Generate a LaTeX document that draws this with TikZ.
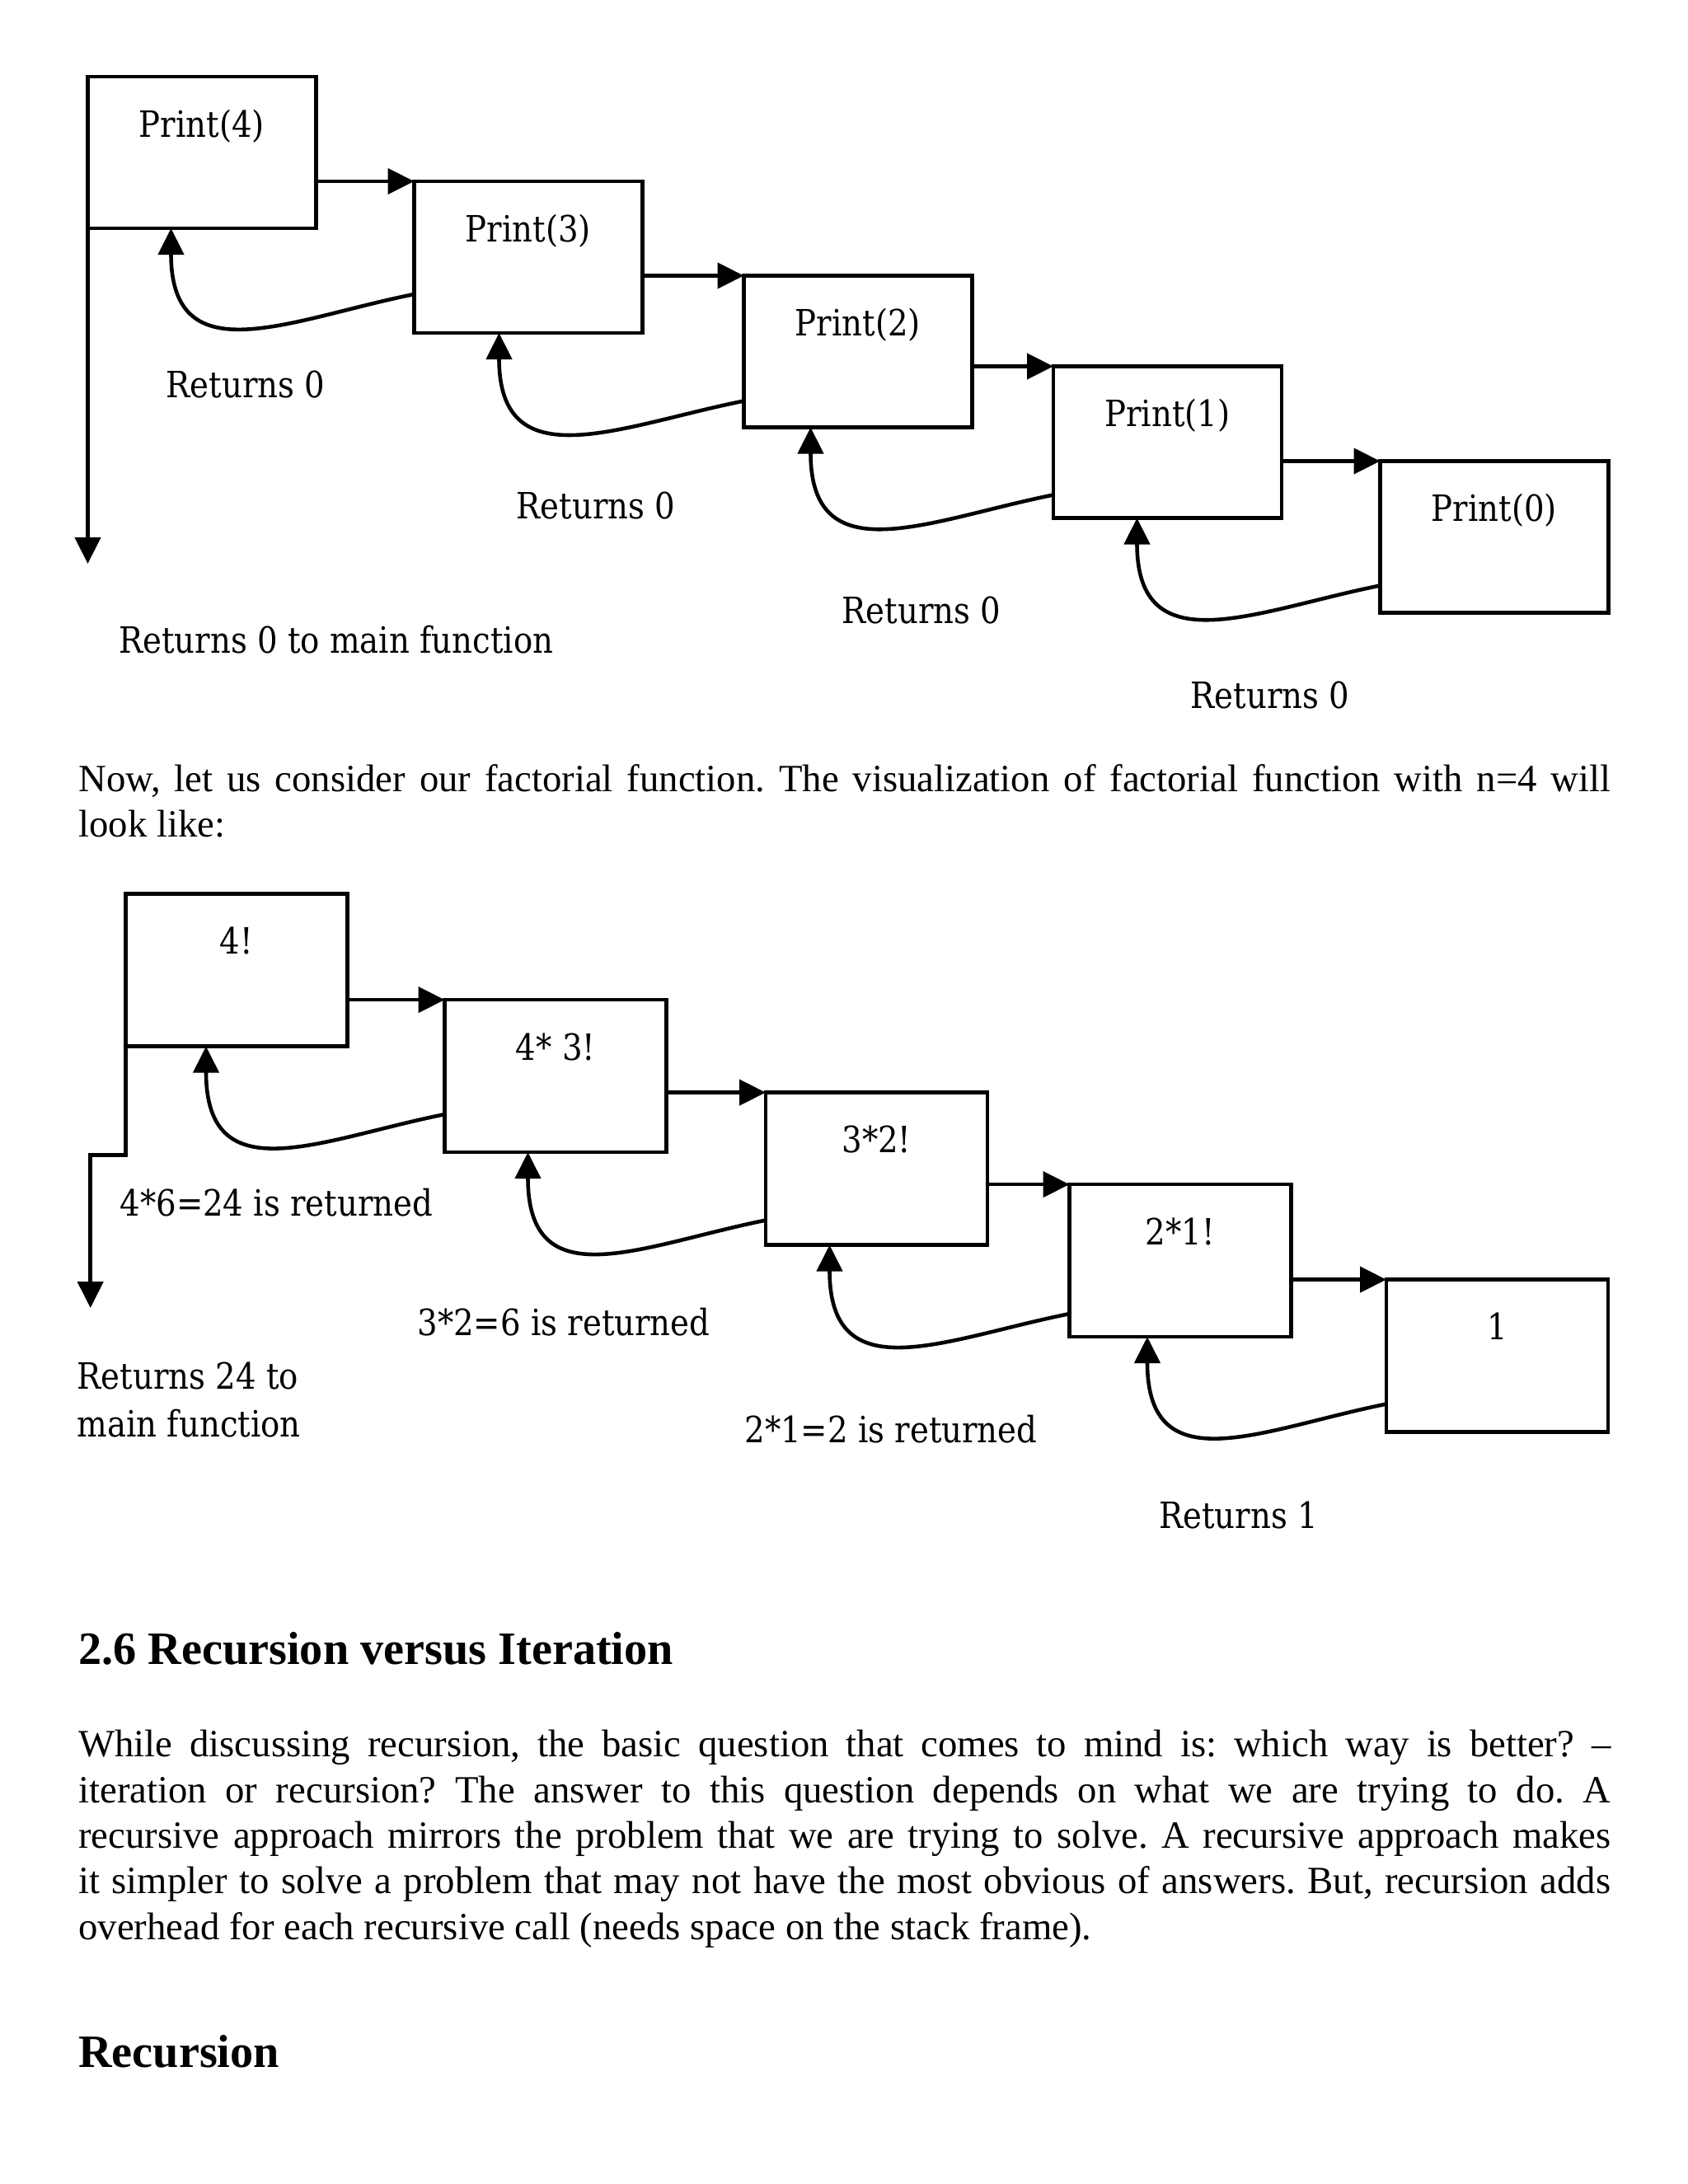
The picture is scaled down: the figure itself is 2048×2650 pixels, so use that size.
\documentclass[tikz,border=0pt]{standalone}
\usepackage{fontspec}
\setmainfont{Liberation Serif}
\newfontfamily\lblfont[FakeStretch=0.88]{DejaVu Serif}
\usetikzlibrary{arrows.meta,positioning}

\begin{document}
\frenchspacing
\begin{tikzpicture}[x=0.1mm,y=-0.1mm,
  callbox/.style={draw, line width=1.3pt, minimum width=27.7mm, minimum height=18.4mm, inner sep=0pt, outer sep=0pt},
  factbox/.style={callbox, minimum width=26.9mm, minimum height=18.5mm},
  lbl/.style={font=\lblfont\fontsize{12.5}{16.5}\selectfont, inner sep=0pt},
  call/.style={line width=1.3pt, -{Triangle[length=3.2mm,width=3.1mm]}},
  ret/.style={call},
  para/.style={font=\fontsize{13.3}{15.75}\selectfont, text width=185.9mm, align=justify, inner sep=0pt},
  head/.style={font=\bfseries\fontsize{16}{19}\selectfont, inner sep=0pt}]
\useasboundingbox[fill=white] (0,0) rectangle (2048,2650);

% print(n) calls
\node[callbox, anchor=north west] (P4) at (106.5,93) {};
\node[callbox, below right=12.7mm and 11.9mm of P4.north east] (P3) {};
\node[callbox, below right=11.45mm and 12.3mm of P3.north east] (P2) {};
\node[callbox, below right=11mm and 9.85mm of P2.north east] (P1) {};
\node[callbox, below right=11.5mm and 11.95mm of P1.north east] (P0) {};
\node[lbl, anchor=base] (P4t) at ([yshift=-7.3mm]P4.north) {Print(4)};
\node[lbl, anchor=base] (P3t) at ([yshift=-7.3mm]P3.north) {Print(3)};
\node[lbl, anchor=base] (P2t) at ([yshift=-7.3mm]P2.north) {Print(2)};
\node[lbl, anchor=base] (P1t) at ([yshift=-7.3mm]P1.north) {Print(1)};
\node[lbl, anchor=base] (P0t) at ([yshift=-7.3mm]P0.north) {Print(0)};

\draw[call] (P4.east |- P3.north) -- (P3.north west);
\draw[call] (P3.east |- P2.north) -- (P2.north west);
\draw[call] (P2.east |- P1.north) -- (P1.north west);
\draw[call] (P1.east |- P0.north) -- (P0.north west);

\draw[ret] ([yshift=-13.7mm]P3.north west) .. controls +(-150,30) and +(0,180) .. ([xshift=10.1mm]P4.south west);
\draw[ret] ([yshift=-15.2mm]P2.north west) .. controls +(-150,30) and +(0,180) .. ([xshift=10.3mm]P3.south west);
\draw[ret] ([yshift=-15.6mm]P1.north west) .. controls +(-150,30) and +(0,180) .. ([xshift=8.1mm]P2.south west);
\draw[ret] ([yshift=-15.1mm]P0.north west) .. controls +(-150,30) and +(0,180) .. ([xshift=10.15mm]P1.south west);

\coordinate (P-out) at ([yshift=-40.7mm]P4.south west);
\draw[call] (P4.south west) -- (P-out);

\node[lbl] (r1) at (298,467) {Returns 0};
\node[lbl] (r2) at (723,613) {Returns 0};
\node[lbl] (r3) at (1118,740) {Returns 0};
\node[lbl] (r4) at (1541,843) {Returns 0};
\node[lbl, anchor=west] (rmain) at (143.6,776) {Returns 0 to main function};

\node[para, anchor=base west] (intro) at (94.6,960) {Now, let us consider our factorial function. The visualization of factorial function with n=4 will\linebreak look like:};

% factorial calls
\node[factbox, anchor=north west] (F4) at (152.5,1084.6) {};
\node[factbox, below right=12.85mm and 11.8mm of F4.north east] (F3) {};
\node[factbox, below right=11.25mm and 12.05mm of F3.north east] (F2) {};
\node[factbox, below right=11.15mm and 9.95mm of F2.north east] (F1) {};
\node[factbox, below right=11.55mm and 11.55mm of F1.north east] (F0) {};
\node[lbl, anchor=base] (F4t) at ([yshift=-7.3mm]F4.north) {4!};
\node[lbl, anchor=base] (F3t) at ([yshift=-7.3mm]F3.north) {4* 3!};
\node[lbl, anchor=base] (F2t) at ([yshift=-7.3mm]F2.north) {3*2!};
\node[lbl, anchor=base] (F1t) at ([yshift=-7.3mm]F1.north) {2*1!};
\node[lbl, anchor=base] (F0t) at ([yshift=-7.3mm]F0.north) {1};

\draw[call] (F4.east |- F3.north) -- (F3.north west);
\draw[call] (F3.east |- F2.north) -- (F2.north west);
\draw[call] (F2.east |- F1.north) -- (F1.north west);
\draw[call] (F1.east |- F0.north) -- (F0.north west);

\draw[ret] ([yshift=-13.9mm]F3.north west) .. controls +(-150,30) and +(0,180) .. ([xshift=9.75mm]F4.south west);
\draw[ret] ([yshift=-15.5mm]F2.north west) .. controls +(-150,30) and +(0,180) .. ([xshift=10.1mm]F3.south west);
\draw[ret] ([yshift=-15.7mm]F1.north west) .. controls +(-150,30) and +(0,180) .. ([xshift=7.75mm]F2.south west);
\draw[ret] ([yshift=-15.1mm]F0.north west) .. controls +(-150,30) and +(0,180) .. ([xshift=9.45mm]F1.south west);

\coordinate (F-bend) at (109.7,1401.5);
\coordinate (F-out) at (109.7,1587);
\draw[call] (F4.south west) |- (F-bend) -- (F-out);

\node[lbl, anchor=west] (q1) at (144.8,1459.5) {4*6=24 is returned};
\node[lbl] (q2) at (684,1604) {3*2=6 is returned};
\node[lbl] (q3) at (1081,1734) {2*1=2 is returned};
\node[lbl] (q4) at (1502.5,1838) {Returns 1};
\node[lbl, anchor=west, align=left] (qmain) at (93,1698) {Returns 24 to\\main function};

% section text
\node[head, anchor=base west] (sec) at (94.6,2019) {2.6 Recursion versus Iteration};
\node[para, anchor=base west] (why) at (94.6,2131.7) {While discussing recursion, the basic question that comes to mind is: which way is better? --\linebreak iteration or recursion? The answer to this question depends on what we are trying to do. A\linebreak recursive approach mirrors the problem that we are trying to solve. A recursive approach makes\linebreak it simpler to solve a problem that may not have the most obvious of answers. But, recursion adds\linebreak overhead for each recursive call (needs space on the stack frame).};
\node[head, anchor=base west] (sub) at (94.6,2508) {Recursion};
\end{tikzpicture}
\end{document}
